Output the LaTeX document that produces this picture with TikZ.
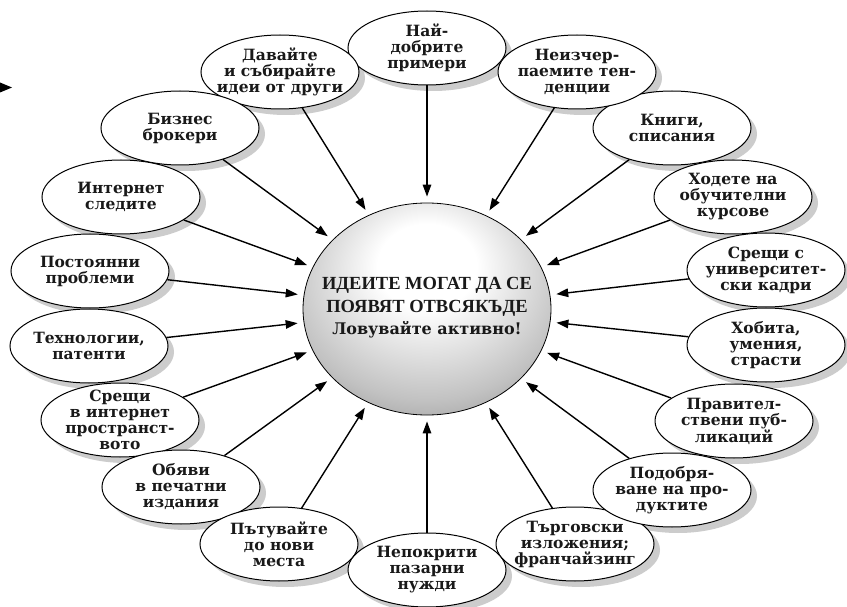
\documentclass[tikz,border=0pt]{standalone}
\usepackage{fontspec}
\setmainfont{DejaVu Serif}
\newfontfamily\capsfont{Liberation Serif}
\usetikzlibrary{shapes.geometric,arrows.meta,backgrounds}
\pgfdeclareradialshading{orb}{\pgfpoint{0bp}{12bp}}{color(0bp)=(white); color(10bp)=(white); color(28bp)=(black!24); color(45bp)=(black!54); color(62bp)=(black!82)}
\tikzset{
  sat/.style={ellipse, draw, line width=1pt, fill=white, minimum width=158pt, minimum height=74pt, inner sep=0pt},
  lbl/.style={align=center, inner sep=0pt, text=black!90, font=\bfseries\fontsize{15.5}{16}\selectfont},
  shadowc/.style={fill=black!20},
  arr/.style={-{Triangle[length=12pt,width=8.5pt]}, line width=1.4pt, shorten >=6pt},
}
\newcommand{\satnode}[4]{%
  \node[sat] (#1) at (#2,#3) {};
  \node[lbl] (#1t) at (#2,#3) {#4};
  \begin{scope}[on background layer]
    \fill[shadowc] ([shift={(6,6)}]#1.center) ellipse [x radius=79pt, y radius=37pt];
  \end{scope}}
\newcommand{\capsline}[1]{{\capsfont\fontsize{18.5}{22.5}\selectfont #1}}
\newcommand{\lovline}[1]{{\fontsize{16}{22.5}\selectfont #1}}
\begin{document}
\begin{tikzpicture}[x=1pt,y=-1pt]
\useasboundingbox (0,0) rectangle (847,607);
\begin{scope}[on background layer]
  \fill[white] (0,0) rectangle (847,607);
\end{scope}
% stray arrowhead at left edge
\fill (0,82.5) -- (12,87.5) -- (0,92.5) -- cycle;
% centre
\node[ellipse, draw, line width=0.8pt, shade, shading=orb, minimum width=248pt, minimum height=212pt, inner sep=0pt] (c) at (427,309) {};
\node[align=center, inner sep=0pt, text=black!90, font=\bfseries\fontsize{18.5}{22.5}\selectfont] (ct) at (427,308)
  {\capsline{ИДЕИТЕ МОГАТ ДА СЕ}\\\capsline{ПОЯВЯТ ОТВСЯКЪДЕ}\\\lovline{Ловувайте активно!}};
% satellites
\satnode{n1}{427}{48}{Най-\\добрите\\примери}
\satnode{n2}{280}{72}{Давайте\\и събирайте\\идеи от други}
\satnode{n3}{180}{128}{Бизнес\\брокери}
\satnode{n4}{121}{197}{Интернет\\следите}
\satnode{n5}{90}{271}{Постоянни\\проблеми}
\satnode{n6}{89}{346}{Технологии,\\патенти}
\satnode{n7}{120}{420}{Срещи\\в интернет\\пространст-\\вото}
\satnode{n8}{181}{487}{Обяви\\в печатни\\издания}
\satnode{n9}{279}{544}{Пътувайте\\до нови\\места}
\satnode{n10}{427}{570}{Непокрити\\пазарни\\нужди}
\satnode{n11}{575}{544}{Търговски\\изложения;\\франчайзинг}
\satnode{n12}{672}{490}{Подобря-\\ване на про-\\дуктите}
\satnode{n13}{734}{421}{Правител-\\ствени пуб-\\ликаций}
\satnode{n14}{766}{345}{Хобита,\\умения,\\страсти}
\satnode{n15}{766}{270}{Срещи с\\университет-\\ски кадри}
\satnode{n16}{733}{197}{Ходете на\\обучителни\\курсове}
\satnode{n17}{672}{128}{Книги,\\списания}
\satnode{n18}{577}{72}{Неизчер-\\паемите тен-\\денции}
% arrows
\foreach \i in {1,...,18} {\draw[arr] (n\i) -- (c);}
\end{tikzpicture}
\end{document}
